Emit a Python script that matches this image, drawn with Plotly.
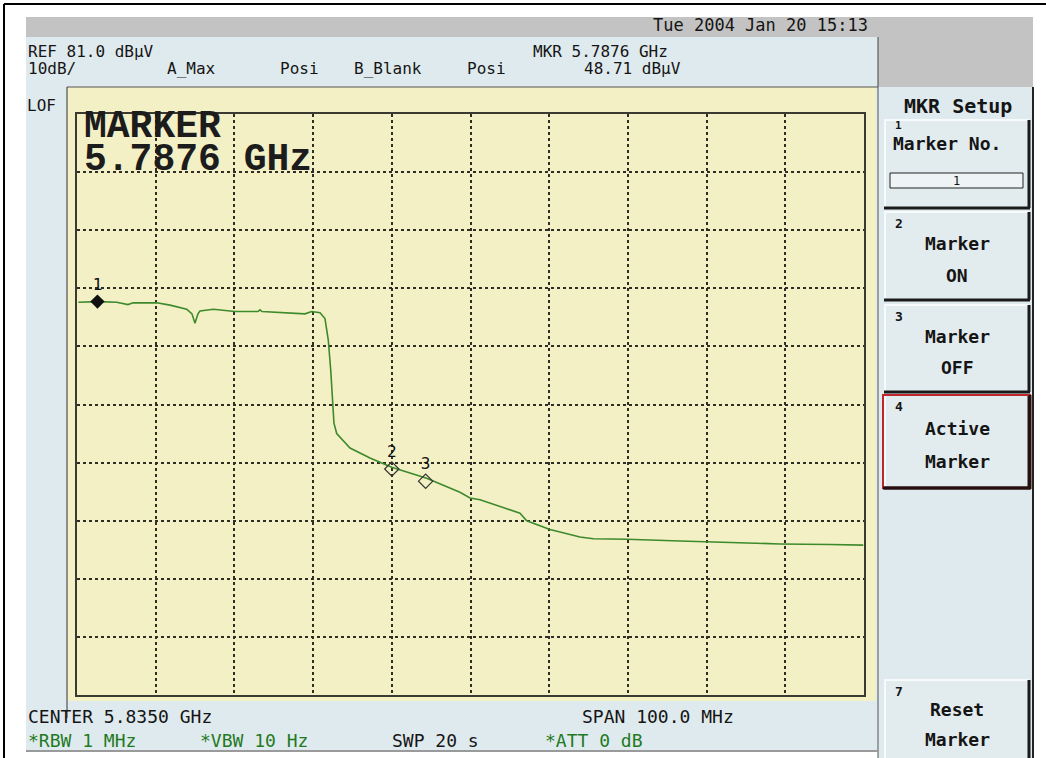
import plotly.graph_objects as go

W, H = 1046, 758

# ---------------- data ----------------
freq_ghz = [5.78517, 5.78763, 5.79004, 5.79148, 5.79212, 5.79513, 5.79682, 5.79894,
            5.79961, 5.79999, 5.80037, 5.80063, 5.80232, 5.80508, 5.80800, 5.80825,
            5.80851, 5.81079, 5.81397, 5.81482, 5.81588, 5.81651, 5.81693, 5.81724,
            5.81749, 5.81765, 5.81800, 5.81969, 5.82223, 5.82499, 5.82943, 5.83366,
            5.83494, 5.83621, 5.84129, 5.84214, 5.84510, 5.84891, 5.85060, 5.85485,
            5.86162, 5.86797, 5.87432, 5.88068, 5.88491]
level_dbuv = [48.6, 48.7, 48.6, 48.2, 48.5, 48.5, 48.1, 47.4,
              46.6, 45.0, 46.6, 47.1, 47.4, 47.0, 47.0, 47.3,
              47.0, 46.8, 46.6, 47.0, 46.8, 45.8, 42.1, 36.9,
              31.2, 27.8, 26.0, 23.5, 21.8, 20.2, 18.3, 15.9,
              14.9, 14.6, 12.3, 11.0, 9.5, 8.2, 7.9, 7.8,
              7.5, 7.2, 7.0, 6.9, 6.8]

marker_labels = ["1", "2", "3"]
marker_freq = [5.7876, 5.8250, 5.8293]
marker_level = [48.71, 19.9, 17.8]

ref_level = 81.0
db_per_div = 10
center_ghz = 5.835
span_ghz = 0.100

header_row1 = ["REF 81.0 dBμV", "MKR 5.7876 GHz"]
header_row2 = ["10dB/", "A_Max", "Posi", "B_Blank", "Posi", "48.71 dBμV"]
date_text = "Tue 2004 Jan 20 15:13"
bottom_row1 = ["CENTER 5.8350 GHz", "SPAN 100.0 MHz"]
bottom_row2 = ["*RBW 1 MHz", "*VBW 10 Hz", "SWP 20 s", "*ATT 0 dB"]
menu_title = "MKR Setup"
button_keys = ["1", "2", "3", "4", "7"]
button_labels = ["Marker No.", "Marker<br>ON", "Marker<br>OFF", "Active<br>Marker", "Reset<br>Marker"]

# ---------------- helpers ----------------
MONO = "DejaVu Sans Mono"


def px(x):
    return x / W


def py(y):
    return 1 - y / H


shapes = []
annotations = []


def rect(x0, y0, x1, y1, fill, line_color=None, lw=0, layer="below"):
    shapes.append(dict(type="rect", xref="paper", yref="paper",
                       x0=px(x0), x1=px(x1), y0=py(y1), y1=py(y0),
                       fillcolor=fill, layer=layer,
                       line=dict(color=line_color or fill, width=lw)))


def line(x0, y0, x1, y1, color, w=1, layer="below"):
    shapes.append(dict(type="line", xref="paper", yref="paper",
                       x0=px(x0), x1=px(x1), y0=py(y0), y1=py(y1),
                       layer=layer, line=dict(color=color, width=w)))


def text(s, x, y, size=16, color="#151515", anchor="left", family=MONO, weight="normal"):
    annotations.append(dict(text=s, x=px(x), y=py(y), xref="paper", yref="paper",
                            xanchor=anchor, yanchor="middle", showarrow=False,
                            align="center" if anchor == "center" else "left",
                            font=dict(family=family, size=size, color=color, weight=weight)))


# ---------------- background panels ----------------
BLUE = "#dfeaee"
GRAY = "#c3c3c3"
YELLOW = "#f4f0c6"

rect(26, 17, 1033, 37, GRAY)
rect(878, 37, 1033, 87, GRAY)
rect(26, 37, 878, 752, BLUE)
rect(878, 87, 1033, 760, BLUE)
rect(67, 87, 876, 701, YELLOW)
line(67, 87, 878, 87, "#555555", 1)
line(67, 87, 67, 718, "#333333", 1)
line(878, 37, 878, 87, "#444444", 1)
line(878, 87, 878, 760, "#555555", 1)
line(1033, 87, 1033, 760, "#222222", 2)
line(26, 751, 878, 751, "#9a9a9a", 2)
line(4, 4, 1046, 4, "#000000", 2)
line(4, 4, 4, 758, "#000000", 2)

# ---------------- header / footer text ----------------
text(date_text, 870, 25, size=17, anchor="right")
text(header_row1[0], 26, 51, size=16)
text(header_row1[1], 531, 51, size=16)
for s, x in zip(header_row2, [26, 165, 278, 352, 465, 582]):
    text(s, x, 68, size=16)
text("LOF", 25, 105, size=16)

text(bottom_row1[0], 26, 716, size=18)
text(bottom_row1[1], 580, 716, size=18)
for s, x in zip(bottom_row2, [26, 198, 390, 543]):
    text(s, x, 740, size=18, color="#1f7a1f" if s.startswith("*") else "#151515")

# MARKER readout inside graticule
text("MARKER", 82, 127, size=38, family="Liberation Mono", color="#1c1c1c", weight="bold")
text("5.7876 GHz", 82, 159, size=38, family="Liberation Mono", color="#1c1c1c", weight="bold")

# ---------------- soft-key menu ----------------
text(menu_title, 958, 106, size=20, anchor="center", weight="bold")

button_rows = [(120, 208), (212, 300), (305, 392), (395, 488), (680, 762)]
for i, ((y0, y1), key, lab) in enumerate(zip(button_rows, button_keys, button_labels)):
    rect(884, y0, 1029, y1, "#e2ecef")
    line(884, y0, 1029, y0, "#f8fbfc", 2)
    line(885, y0, 885, y1, "#f8fbfc", 2)
    line(1029, y0, 1029, y1, "#1a1a1a", 3)
    line(884, y1, 1030, y1, "#1a1a1a", 3)
    if key == "4":
        rect(883, y0, 1030, y1, "rgba(0,0,0,0)", "#c0262c", 2)
        line(1030, y0, 1030, y1 + 1, "#2a0d0d", 3)
        line(883, y1, 1031, y1, "#2a0d0d", 3)
    if key == "1":
        text(key, 893, y0 + 5, size=11, weight="bold")
        text(lab, 891, y0 + 23, size=18, weight="bold")
        rect(890, 173, 1023, 188, "#eef4f5", "#222222", 1)
        text("1", 956, 181, size=12, anchor="center")
    else:
        text(key, 893, y0 + 11, size=13, weight="bold")
        h = (y1 - y0)
        text(lab.split("<br>")[0], 957, y0 + h * 0.36, size=18, anchor="center", weight="bold")
        text(lab.split("<br>")[1], 957, y0 + h * 0.72, size=18, anchor="center", weight="bold")

# ---------------- figure ----------------
fig = go.Figure()
fig.add_trace(go.Scatter(x=freq_ghz, y=level_dbuv, mode="lines",
                         line=dict(color="#3d8a2c", width=1.6), hoverinfo="skip"))
fig.add_trace(go.Scatter(x=marker_freq[:1], y=marker_level[:1], mode="markers+text",
                         text=marker_labels[:1], textposition="top center",
                         textfont=dict(family=MONO, size=16, color="#111111"),
                         marker=dict(symbol="diamond", size=11, color="#111111")))
fig.add_trace(go.Scatter(x=marker_freq[1:], y=marker_level[1:], mode="markers+text",
                         text=marker_labels[1:], textposition="top center",
                         textfont=dict(family=MONO, size=16, color="#111111"),
                         marker=dict(symbol="diamond-open", size=11, color="#333333",
                                     line=dict(width=1.2, color="#333333"))))

x_lo = center_ghz - span_ghz / 2
x_hi = center_ghz + span_ghz / 2
y_hi = ref_level
y_lo = ref_level - 10 * db_per_div

fig.update_layout(
    width=W, height=H, margin=dict(l=0, r=0, t=0, b=0),
    paper_bgcolor="white", plot_bgcolor=YELLOW, showlegend=False,
    shapes=shapes, annotations=annotations,
    xaxis=dict(domain=[px(77), px(864)], range=[x_lo, x_hi], tick0=x_lo, dtick=span_ghz / 10,
               showgrid=True, gridcolor="#2e2e26", gridwidth=1.5, griddash="dot",
               showticklabels=False, ticks="", zeroline=False,
               showline=True, mirror=True, linecolor="#3a3a30", linewidth=2),
    yaxis=dict(domain=[py(695), py(114)], range=[y_lo, y_hi], tick0=y_hi, dtick=db_per_div,
               showgrid=True, gridcolor="#2e2e26", gridwidth=1.5, griddash="dot",
               showticklabels=False, ticks="", zeroline=False,
               showline=True, mirror=True, linecolor="#3a3a30", linewidth=2),
)

fig.write_html("out.html", config={"displayModeBar": False},
               post_script="document.body.style.margin='0';")
